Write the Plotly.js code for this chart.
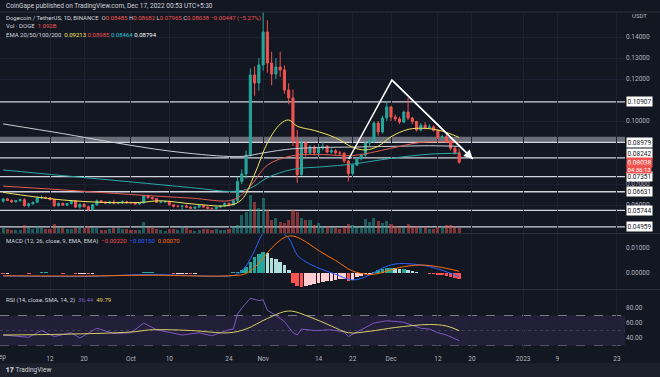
<!DOCTYPE html>
<html><head><meta charset="utf-8">
<script src="https://cdn.plot.ly/plotly-3.0.1.min.js"></script>
<style>html,body{margin:0;padding:0;background:#131722;overflow:hidden}#chart{width:660px;height:377px}</style>
</head><body><div id="chart"></div>
<script>
// ---------- DATA ----------
const firstDay = '2022-09-01';
const dayCount = 108; // Sep 1 .. Dec 17, 2022
const openP = [
0.0618,0.0629,0.0622,0.0615,0.0621,0.0625,0.0597,0.0606,0.0613,0.0634,0.0636,0.0634,0.0626,0.0597,0.0608,0.0599,0.0607,0.0620,0.0590,0.0603,0.0592,0.0578,0.0601,0.0620,0.0614,0.0609,0.0614,0.0609,0.0612,0.0615,
0.0612,0.0611,0.0605,0.0610,0.0643,0.0636,0.0630,0.0613,0.0614,0.0616,0.0601,0.0594,0.0594,0.0595,0.0590,0.0585,0.0590,0.0597,0.0590,0.0584,0.0583,0.0590,0.0595,0.0608,0.0601,0.0622,0.0712,0.0748,0.0838,0.1219,0.1181,
0.1267,0.1424,0.1276,0.1224,0.1257,0.1243,0.1148,0.1110,0.0905,0.0745,0.0895,0.0848,0.0876,0.0848,0.0871,0.0880,0.0852,0.0858,0.0848,0.0846,0.0810,0.0750,0.0790,0.0820,0.0838,0.0895,0.0905,0.0990,0.0948,0.1014,
0.1067,0.1019,0.1010,0.0995,0.1043,0.1014,0.0998,0.0957,0.0980,0.0968,0.0972,0.0955,0.0920,0.0925,0.0905,0.0870,0.08485];
const highP = [
0.0633,0.0634,0.0627,0.0624,0.0630,0.0633,0.0610,0.0616,0.0641,0.0645,0.0640,0.0638,0.0630,0.0612,0.0611,0.0610,0.0624,0.0622,0.0607,0.0609,0.0597,0.0605,0.0626,0.0624,0.0618,0.0619,0.0626,0.0616,0.0622,0.0620,
0.0616,0.0615,0.0612,0.0648,0.0650,0.0640,0.0632,0.0618,0.0620,0.0620,0.0604,0.0600,0.0600,0.0603,0.0593,0.0592,0.0600,0.0600,0.0593,0.0588,0.0593,0.0598,0.0612,0.0612,0.0630,0.0735,0.0770,0.0860,0.1250,0.1260,0.1300,
0.1560,0.1480,0.1330,0.1300,0.1330,0.1265,0.1180,0.1150,0.0958,0.0918,0.0905,0.0885,0.0885,0.0890,0.0900,0.0885,0.0870,0.0866,0.0858,0.0852,0.0815,0.0795,0.0828,0.0845,0.0905,0.0915,0.0998,0.1000,0.1025,0.1095,
0.1072,0.1030,0.1020,0.1050,0.1110,0.1020,0.1000,0.0990,0.0995,0.0985,0.0980,0.0960,0.0935,0.0940,0.0910,0.0880,0.08682];
const lowP = [
0.0612,0.0618,0.0610,0.0611,0.0615,0.0592,0.0588,0.0601,0.0609,0.0628,0.0628,0.0622,0.0590,0.0593,0.0596,0.0595,0.0603,0.0586,0.0583,0.0588,0.0570,0.0572,0.0596,0.0608,0.0604,0.0604,0.0603,0.0603,0.0605,0.0606,
0.0606,0.0601,0.0601,0.0607,0.0628,0.0625,0.0609,0.0609,0.0611,0.0598,0.0588,0.0588,0.0575,0.0587,0.0582,0.0582,0.0587,0.0586,0.0579,0.0578,0.0578,0.0588,0.0592,0.0597,0.0597,0.0615,0.0700,0.0725,0.0830,0.1120,0.1145,
0.1240,0.1230,0.1170,0.1200,0.1210,0.1130,0.1080,0.0880,0.0705,0.0740,0.0830,0.0842,0.0835,0.0830,0.0860,0.0845,0.0845,0.0840,0.0838,0.0800,0.0712,0.0740,0.0785,0.0812,0.0830,0.0880,0.0895,0.0930,0.0940,0.1000,
0.1000,0.1000,0.0985,0.0990,0.1005,0.0985,0.0950,0.0950,0.0960,0.0962,0.0950,0.0912,0.0910,0.0895,0.0860,0.0840,0.07965];
const closeP = [
0.0629,0.0622,0.0615,0.0621,0.0625,0.0597,0.0606,0.0613,0.0634,0.0636,0.0634,0.0626,0.0597,0.0608,0.0599,0.0607,0.0620,0.0590,0.0603,0.0592,0.0578,0.0601,0.0620,0.0614,0.0609,0.0614,0.0609,0.0612,0.0615,0.0612,
0.0611,0.0605,0.0610,0.0643,0.0636,0.0630,0.0613,0.0614,0.0616,0.0601,0.0594,0.0594,0.0595,0.0590,0.0585,0.0590,0.0597,0.0590,0.0584,0.0583,0.0590,0.0595,0.0608,0.0601,0.0622,0.0712,0.0748,0.0838,0.1219,0.1181,0.1267,
0.1424,0.1276,0.1224,0.1257,0.1243,0.1148,0.1110,0.0905,0.0745,0.0895,0.0848,0.0876,0.0848,0.0871,0.0880,0.0852,0.0858,0.0848,0.0846,0.0810,0.0750,0.0790,0.0820,0.0838,0.0895,0.0905,0.0990,0.0948,0.1014,0.1067,
0.1019,0.1010,0.0995,0.1043,0.1014,0.0998,0.0957,0.0980,0.0968,0.0972,0.0955,0.0920,0.0925,0.0905,0.0870,0.08485,0.08038];
const volumeB = [
0.9,0.7,0.5,0.5,0.6,1.6,1.1,0.8,1.4,1.0,0.7,0.8,1.8,1.0,0.9,0.8,0.7,1.0,1.3,0.9,1.4,1.2,1.0,0.6,0.5,0.8,1.0,0.9,0.7,0.7,
0.5,0.5,0.6,2.2,1.2,0.9,0.8,0.5,0.4,0.8,0.8,0.6,1.4,0.9,0.5,0.4,0.6,0.7,0.7,0.6,0.8,0.5,0.6,0.7,1.4,1.6,3.6,4.2,7.6,6.2,5.0,
7.0,4.6,2.6,3.0,2.2,2.0,2.6,4.6,4.2,3.0,2.6,2.6,1.6,2.0,1.4,1.4,1.2,1.0,0.8,1.2,1.8,1.6,1.4,1.2,2.8,2.2,3.0,2.4,2.0,2.4,
1.8,1.4,1.0,1.2,1.8,1.2,1.4,1.0,1.1,0.7,0.8,1.2,1.4,1.5,1.6,1.3,1.092];
const macdHist = [
-0.0002,-0.0002,-0.0001,0.0000,0.0001,-0.0001,-0.0002,-0.0001,0.0002,0.0003,0.0003,0.0002,-0.0001,-0.0001,-0.0002,-0.0001,0.0000,-0.0002,-0.0002,-0.0002,-0.0003,-0.0002,0.0000,0.0001,0.0001,0.0001,0.0001,0.0001,0.0001,0.0001,
0.0001,0.0000,0.0000,0.0003,0.0004,0.0004,0.0002,0.0001,0.0001,-0.0001,-0.0002,-0.0002,-0.0002,-0.0002,-0.0003,-0.0002,-0.0001,-0.0001,-0.0001,-0.0001,-0.0001,0.0000,0.0001,0.0001,0.0003,0.0005,0.0012,0.0025,0.0045,0.0065,0.0076,
0.0085,0.0080,0.0060,0.0055,0.0045,0.0031,0.0011,-0.0040,-0.0052,-0.0055,-0.0052,-0.0048,-0.0045,-0.0040,-0.0036,-0.0033,-0.0030,-0.0026,-0.0023,-0.0023,-0.0030,-0.0026,-0.0016,-0.0012,-0.0005,-0.0002,0.0006,0.0012,0.0016,0.0021,
0.0021,0.0019,0.0015,0.0015,0.0012,0.0008,0.0003,0.0001,-0.0001,-0.0002,-0.0004,-0.0007,-0.0008,-0.0011,-0.0015,-0.0020,-0.0022];

const ema20Dates = ['2022-09-01','2022-09-08','2022-09-15','2022-09-25','2022-10-03','2022-10-08','2022-10-16','2022-10-24','2022-10-27','2022-10-30','2022-11-02','2022-11-05','2022-11-07','2022-11-09','2022-11-13','2022-11-18','2022-11-22','2022-11-25','2022-11-28','2022-12-01','2022-12-05','2022-12-09','2022-12-13','2022-12-17'];
const ema20 = [0.0660,0.0640,0.0624,0.0612,0.0612,0.0620,0.0604,0.0598,0.0626,0.0746,0.0896,0.0985,0.1005,0.0975,0.0955,0.0920,0.0875,0.0862,0.0880,0.0925,0.0960,0.0965,0.0952,0.09213];
const ema50Dates = ['2022-09-01','2022-09-15','2022-10-01','2022-10-15','2022-10-25','2022-10-29','2022-11-02','2022-11-08','2022-11-15','2022-11-22','2022-12-01','2022-12-08','2022-12-17'];
const ema50 = [0.0690,0.0672,0.0650,0.0633,0.0625,0.0690,0.0790,0.0835,0.0840,0.0835,0.0870,0.0898,0.08985];
const ema100Dates = ['2022-09-01','2022-09-15','2022-10-01','2022-10-15','2022-10-25','2022-10-29','2022-11-02','2022-11-08','2022-11-15','2022-11-22','2022-12-01','2022-12-10','2022-12-17'];
const ema100 = [0.0767,0.0740,0.0710,0.0683,0.0665,0.0680,0.0730,0.0770,0.0782,0.0795,0.0822,0.0842,0.08464];
const ema200Dates = ['2022-09-01','2022-09-15','2022-09-26','2022-10-10','2022-10-24','2022-10-28','2022-11-01','2022-11-08','2022-11-15','2022-11-22','2022-12-01','2022-12-10','2022-12-17'];
const ema200 = [0.0986,0.0940,0.0901,0.0857,0.0831,0.0833,0.0848,0.0868,0.0874,0.0876,0.0879,0.0882,0.08794];

const macdDates = ['2022-09-01','2022-09-20','2022-10-05','2022-10-24','2022-10-26','2022-10-28','2022-10-30','2022-11-01','2022-11-03','2022-11-05','2022-11-07','2022-11-09','2022-11-11','2022-11-14','2022-11-18','2022-11-22','2022-11-26','2022-11-29','2022-12-02','2022-12-06','2022-12-10','2022-12-14','2022-12-17'];
const macdLine = [-0.0012,-0.0014,-0.0006,-0.0012,-0.0004,0.0028,0.0090,0.0158,0.0172,0.0165,0.0140,0.0072,0.0045,0.0020,-0.0005,-0.0028,-0.0008,0.0020,0.0036,0.0036,0.0026,0.0005,-0.0015];
const signalDates = ['2022-09-01','2022-09-20','2022-10-05','2022-10-24','2022-10-28','2022-10-31','2022-11-03','2022-11-06','2022-11-08','2022-11-11','2022-11-14','2022-11-18','2022-11-22','2022-11-26','2022-11-29','2022-12-03','2022-12-08','2022-12-12','2022-12-17'];
const signalLine = [-0.0011,-0.0012,-0.0009,-0.0011,-0.0002,0.0040,0.0100,0.0142,0.0148,0.0125,0.0090,0.0050,0.0008,-0.0006,0.0002,0.0022,0.0032,0.0025,0.0007];

const rsiDates = ['2022-09-01','2022-09-04','2022-09-07','2022-09-10','2022-09-13','2022-09-17','2022-09-19','2022-09-23','2022-09-27','2022-10-01','2022-10-04','2022-10-07','2022-10-10','2022-10-13','2022-10-17','2022-10-20','2022-10-24','2022-10-25','2022-10-26','2022-10-27','2022-10-29','2022-10-31','2022-11-01','2022-11-02','2022-11-04','2022-11-06','2022-11-08','2022-11-09','2022-11-10','2022-11-13','2022-11-17','2022-11-20','2022-11-21','2022-11-23','2022-11-25','2022-11-27','2022-11-30','2022-12-02','2022-12-04','2022-12-06','2022-12-08','2022-12-10','2022-12-12','2022-12-14','2022-12-17'];
const rsi = [44,43,41,50,42,47,40,53,46,47,60,51,47,44,47,43,51,52,72,80,93,90,91,77,70,62,47,44,52,50,51,48,42,48,55,60,63,62,61,57,53,52,47,44,36.44];
const rsiMaDates = ['2022-09-01','2022-09-15','2022-10-01','2022-10-06','2022-10-15','2022-10-24','2022-10-28','2022-11-02','2022-11-07','2022-11-12','2022-11-17','2022-11-21','2022-11-26','2022-12-02','2022-12-10','2022-12-14','2022-12-17'];
const rsiMa = [44,45,48,51,50,47,52,66,76,68,56,47,49,54,58,56,49.79];

const levelLines = [0.10907,0.08979,0.08242,0.07351,0.06631,0.05744,0.04959];
const zoneTop = 0.0925, zoneBottom = 0.08979;
const lastPrice = 0.08038, countdown = '04:36:13';
const drawDates = ['2022-11-21 02:00','2022-12-01 05:00','2022-12-20 05:00'];
const drawPrices = [0.0819,0.1195,0.0819];
const xTickVals = ['2022-09-12','2022-09-20','2022-10-01','2022-10-10','2022-10-24','2022-11-01','2022-11-14','2022-11-22','2022-12-01','2022-12-12','2022-12-20','2023-01-01','2023-01-09','2023-01-23'];
const xTickText = ['12','20','Oct','10','24','Nov','14','22','Dec','12','20','2023','9','23'];
const firstMonthLabel = 'Sep';
const priceTicks = [0.06,0.07,0.10,0.12,0.13,0.14];

// ---------- BUILD ----------
const dates = [];
{ const t0 = Date.parse(firstDay+'T00:00:00Z');
  for (let i=0;i<dayCount;i++){ dates.push(new Date(t0+i*86400000).toISOString().slice(0,10)); } }

const W=660,H=377,MT=12,MB=27,ML=0,MR=35;
const PW=W-ML-MR, PH=H-MT-MB;
const px = x => (x-ML)/PW, py = y => (H-MB-y)/PH;
const FONT = 'Roboto, "Liberation Sans", sans-serif';
const TXT = '#b2b5be', UP='#26a69a', DN='#ef5350';

const volColors = closeP.map((c,i)=> c>=openP[i] ? 'rgba(38,166,154,0.5)' : 'rgba(239,83,80,0.5)');
const histColors = macdHist.map((h,i)=>{ const p = i>0?macdHist[i-1]:0;
  if (h>=0) return h>=p ? '#26a69a' : '#b2dfdb'; return h<p ? '#ff5252' : '#ffcdd2'; });

const traces = [
 {type:'bar', x:dates, y:volumeB, yaxis:'y4', marker:{color:volColors}, width:0.72*86400000, hoverinfo:'skip'},
 {type:'scatter', mode:'lines', x:ema200Dates, y:ema200, line:{color:'#c9ccd4',width:1,shape:'spline'}, hoverinfo:'skip'},
 {type:'scatter', mode:'lines', x:ema100Dates, y:ema100, line:{color:'#2aa9a6',width:1,shape:'spline'}, hoverinfo:'skip'},
 {type:'scatter', mode:'lines', x:ema50Dates, y:ema50, line:{color:'#e25b52',width:1,shape:'spline'}, hoverinfo:'skip'},
 {type:'scatter', mode:'lines', x:ema20Dates, y:ema20, line:{color:'#f3e55e',width:1,shape:'spline'}, hoverinfo:'skip'},
 {type:'candlestick', x:dates, open:openP, high:highP, low:lowP, close:closeP,
  increasing:{line:{color:UP,width:1},fillcolor:UP}, decreasing:{line:{color:DN,width:1},fillcolor:DN}, whiskerwidth:0, hoverinfo:'skip'},
 {type:'scatter', mode:'lines', x:drawDates, y:drawPrices, line:{color:'#ffffff',width:1.5}, hoverinfo:'skip'},
 {type:'bar', x:dates, y:macdHist, yaxis:'y2', marker:{color:histColors}, width:0.85*86400000, hoverinfo:'skip'},
 {type:'scatter', mode:'lines', x:macdDates, y:macdLine, yaxis:'y2', line:{color:'#2962ff',width:1,shape:'spline'}, hoverinfo:'skip'},
 {type:'scatter', mode:'lines', x:signalDates, y:signalLine, yaxis:'y2', line:{color:'#ff6d00',width:1,shape:'spline'}, hoverinfo:'skip'},
 {type:'scatter', mode:'lines', x:rsiDates, y:rsi, yaxis:'y3', line:{color:'#7e57c2',width:1}, hoverinfo:'skip'},
 {type:'scatter', mode:'lines', x:rsiMaDates, y:rsiMa, yaxis:'y3', line:{color:'#d8cf66',width:1,shape:'spline'}, hoverinfo:'skip'}
];

const shapes = [];
// RSI band
shapes.push({type:'rect', xref:'paper', x0:0, x1:1, yref:'y3', y0:30, y1:70, fillcolor:'rgba(126,87,194,0.14)', line:{width:0}, layer:'below'});
shapes.push({type:'line', xref:'paper', x0:0, x1:1, yref:'y3', y0:70, y1:70, line:{color:'#787b86',width:1,dash:'dash'}, layer:'below'});
shapes.push({type:'line', xref:'paper', x0:0, x1:1, yref:'y3', y0:30, y1:30, line:{color:'rgba(120,123,134,0.6)',width:1,dash:'dash'}, layer:'below'});
shapes.push({type:'line', xref:'paper', x0:0, x1:1, yref:'y3', y0:50, y1:50, line:{color:'rgba(120,123,134,0.35)',width:1,dash:'dot'}, layer:'below'});
// resistance zone + levels
shapes.push({type:'rect', xref:'paper', x0:0, x1:1, yref:'y', y0:zoneBottom, y1:zoneTop, fillcolor:'rgba(178,181,190,0.55)', line:{width:0}, layer:'below'});
levelLines.forEach(v=>shapes.push({type:'line', xref:'paper', x0:0, x1:1, yref:'y', y0:v, y1:v, line:{color:'#d1d4dc',width:1.3}, layer:'below'}));
// pane separators
[233.5, 289.5].forEach(yp=>shapes.push({type:'line', xref:'paper', x0:0, x1:(W-ML)/PW, yref:'paper', y0:py(yp), y1:py(yp), line:{color:'#2a2e39',width:1}}));
// bottom strip
shapes.push({type:'rect', xref:'paper', x0:px(0), x1:px(W), yref:'paper', y0:py(H), y1:py(363), fillcolor:'#1c202b', line:{width:0}});
shapes.push({type:'line', xref:'paper', x0:px(0), x1:px(W), yref:'paper', y0:py(12), y1:py(12), line:{color:'#2a2e39',width:1}});

const ann = [];
const T = (x,y,text,size,color,extra)=>ann.push(Object.assign({xref:'paper',yref:'paper',x:px(x),y:py(y),text:text,showarrow:false,xanchor:'left',yanchor:'middle',font:{family:FONT,size:size||6.5,color:color||TXT}},extra||{}));
const red = s=>'<span style="color:#ef5350">'+s+'</span>';
T(4,6,'CoinGape published on TradingView.com, Dec 17, 2022 00:53 UTC+5:30',6.5,'#d1d4dc');
T(4,18,'Dogecoin / TetherUS, 1D, BINANCE  O'+red('0.08485')+' H'+red('0.08682')+' L'+red('0.07965')+' C'+red('0.08038')+' '+red('−0.00447 (−5.27%)'),6,'#d1d4dc');
T(4,26,'Vol · DOGE  '+red('1.092B'),6,'#d1d4dc');
T(4,34,'EMA 20/50/100/200  <span style="color:#f3e55e">0.09213</span> <span style="color:#ef5350">0.08985</span> <span style="color:#26c6da">0.08464</span> <span style="color:#ffffff">0.08794</span>',6,'#d1d4dc');
T(4,241,'MACD (12, 26, close, 9, EMA, EMA)  '+red('−0.00220')+'  <span style="color:#2962ff">−0.00150</span>  <span style="color:#ff6d00">0.00070</span>',6,'#d1d4dc');
T(4,300,'RSI (14, close, SMA, 14, 2)  <span style="color:#7e57c2">36.44</span>  <span style="color:#e0d65e">49.79</span>',6,'#d1d4dc');
T(630,16,'USDT',6,TXT);
T(4,370,'<b>𝟏𝟕</b> TradingView',6.5,'#d1d4dc');
// first month label, clipped by the left edge as in the reference
T(0,357,firstMonthLabel,6.5,TXT,{xanchor:'center'});
// price-scale boxes (the one just above the live price is nudged up, as TradingView does)
levelLines.forEach(v=>ann.push({xref:'paper',yref:'y',x:px(626),y:v,text:v.toFixed(5),showarrow:false,xanchor:'left',yanchor:'middle',
  yshift: (v>lastPrice && v-lastPrice<0.003) ? 4 : 0,
  bgcolor:'#ffffff',borderpad:0.5,font:{family:FONT,size:6.5,color:'#131722'}}));
ann.push({xref:'paper',yref:'y',x:px(626),y:lastPrice,text:lastPrice.toFixed(5),showarrow:false,xanchor:'left',yanchor:'middle',yshift:0,
  bgcolor:'#ef5350',borderpad:0.5,font:{family:FONT,size:6.5,color:'#ffffff'}});
ann.push({xref:'paper',yref:'y',x:px(626),y:lastPrice,text:countdown,showarrow:false,xanchor:'left',yanchor:'middle',yshift:-6.5,
  bgcolor:'#ef5350',borderpad:0.5,font:{family:FONT,size:6,color:'#ffffff'}});
// arrow head of the drawing
ann.push({xref:'x',yref:'y',x:drawDates[2],y:drawPrices[2],axref:'x',ayref:'y',ax:drawDates[1],ay:drawPrices[1],showarrow:true,arrowhead:2,arrowsize:1.2,arrowwidth:1.5,arrowcolor:'#ffffff',text:''});

const yBase = {side:'right', anchor:'x', showline:false, zeroline:false, ticks:'', tickfont:{family:FONT,size:6.5,color:TXT}, gridcolor:'#1c2030', fixedrange:true};
const layout = {
  width:W, height:H, margin:{l:ML,r:MR,t:MT,b:MB}, paper_bgcolor:'#131722', plot_bgcolor:'#131722',
  showlegend:false, hovermode:false, bargap:0,
  xaxis:{type:'date', anchor:'y3', range:['2022-08-31 06:30','2023-01-24 21:30'], rangeslider:{visible:false},
    tickvals:xTickVals, ticktext:xTickText, tickfont:{family:FONT,size:6.5,color:TXT}, ticks:'', ticklabelstandoff:3, showline:false, zeroline:false, gridcolor:'#1c2030'},
  yaxis:Object.assign({}, yBase, {domain:[py(233),1], range:[0.046667,0.151905], tickvals:priceTicks, tickformat:'.5f'}),
  yaxis2:Object.assign({}, yBase, {domain:[py(289),py(234)], range:[-0.0064,0.0156], tickvals:[0,0.01], tickformat:'.5f', showgrid:false}),
  yaxis3:Object.assign({}, yBase, {domain:[0,py(290)], range:[24,104], tickvals:[40,60,80], tickformat:'.2f', showgrid:false}),
  yaxis4:{overlaying:'y', anchor:'x', range:[0,44], visible:false, fixedrange:true},
  shapes:shapes, annotations:ann
};
Plotly.newPlot('chart', traces, layout, {staticPlot:true, displayModeBar:false});
</script></body></html>
